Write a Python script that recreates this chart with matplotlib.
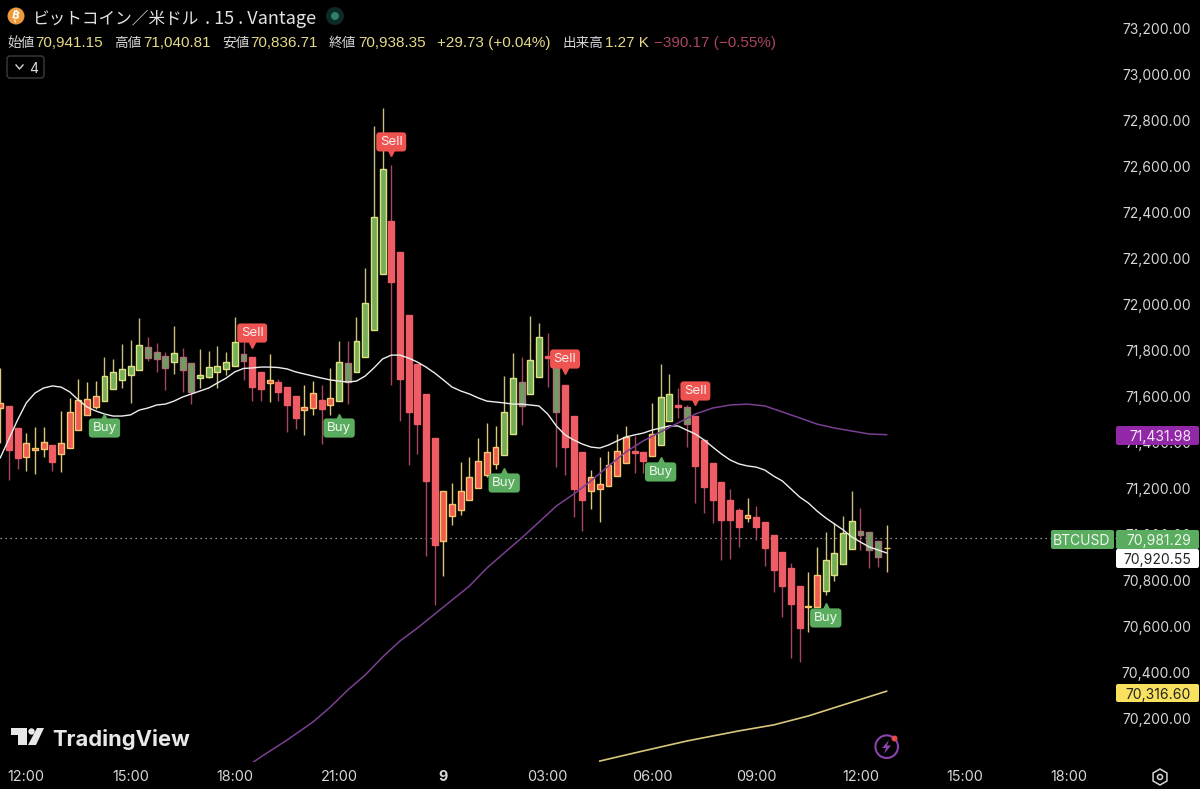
import matplotlib
matplotlib.use('Agg')
import matplotlib.pyplot as plt
from matplotlib.patches import Circle, FancyBboxPatch, Polygon, RegularPolygon
import numpy as np

# Candle data (15 min bars)
opens = [71548, 71557, 71461, 71335, 71365, 71370, 71387, 71348, 71374, 71452,
         71518, 71552, 71578, 71631, 71670, 71691, 71713, 71813, 71792, 71774,
         71748, 71770, 71744, 71678, 71683, 71705, 71718, 71731, 71783, 71770,
         71705, 71657, 71661, 71639, 71600, 71539, 71548, 71583, 71561, 71578,
         71744, 71705, 71770, 71887, 72131, 72361, 72226, 71952, 71739, 71609,
         71418, 70970, 71078, 71105, 71148, 71200, 71257, 71305, 71344, 71435,
         71661, 71609, 71683, 71774, 71748, 71648, 71513, 71357, 71187, 71196,
         71209, 71252, 71309, 71361, 71357, 71339, 71387, 71492, 71561, 71552,
         71513, 71409, 71309, 71226, 71148, 71105, 71070, 71074, 71052, 70996,
         70922, 70852, 70774, 70683, 70683, 70752, 70822, 70870, 70935, 71013,
         71009, 70970, 70941.15]
highs = [71722, 71557, 71461, 71439, 71465, 71465, 71387, 71535, 71591, 71674,
         71661, 71665, 71770, 71761, 71826, 71844, 71939, 71857, 71831, 71792,
         71905, 71809, 71744, 71805, 71796, 71818, 71792, 71944, 71844, 71770,
         71705, 71783, 71674, 71639, 71600, 71648, 71665, 71648, 71722, 71839,
         71839, 71944, 72157, 72774, 72852, 72605, 72226, 71952, 71739, 71609,
         71418, 71187, 71222, 71313, 71335, 71418, 71483, 71470, 71687, 71787,
         71770, 71948, 71918, 71874, 71770, 71648, 71513, 71357, 71278, 71335,
         71361, 71435, 71470, 71426, 71357, 71570, 71739, 71696, 71635, 71561,
         71513, 71409, 71309, 71226, 71196, 71113, 71157, 71122, 71052, 70996,
         70922, 70874, 70774, 70835, 70944, 71009, 71048, 71078, 71187, 71113,
         71009, 70970, 71040.81]
lows = [71396, 71235, 71283, 71274, 71261, 71335, 71274, 71270, 71374, 71452,
        71518, 71544, 71578, 71631, 71635, 71570, 71713, 71752, 71705, 71626,
        71696, 71618, 71565, 71635, 71678, 71635, 71691, 71731, 71670, 71578,
        71578, 71574, 71578, 71444, 71457, 71431, 71518, 71391, 71518, 71578,
        71565, 71705, 71770, 71887, 72131, 71648, 71492, 71300, 71348, 70905,
        70691, 70818, 71039, 71083, 71148, 71200, 71248, 71283, 71344, 71435,
        71474, 71609, 71683, 71639, 71291, 71257, 71074, 71013, 71109, 71052,
        71209, 71252, 71309, 71265, 71265, 71339, 71387, 71492, 71505, 71378,
        71135, 71091, 71048, 70887, 70891, 70944, 71052, 70974, 70861, 70748,
        70639, 70461, 70444, 70574, 70683, 70735, 70796, 70870, 70935, 70931,
        70852, 70857, 70836.71]
closes = [71570, 71365, 71331, 71396, 71374, 71400, 71313, 71396, 71531, 71583,
          71587, 71600, 71687, 71705, 71718, 71731, 71822, 71765, 71761, 71722,
          71787, 71713, 71618, 71691, 71726, 71731, 71748, 71835, 71752, 71639,
          71631, 71670, 71618, 71561, 71505, 71552, 71613, 71544, 71592, 71748,
          71661, 71839, 72005, 72378, 72587, 72096, 71674, 71531, 71478, 71231,
          70952, 71187, 71131, 71187, 71248, 71318, 71357, 71378, 71531, 71678,
          71557, 71757, 71857, 71765, 71531, 71378, 71196, 71148, 71248, 71218,
          71300, 71361, 71422, 71352, 71318, 71435, 71596, 71609, 71552, 71478,
          71296, 71205, 71148, 71061, 71061, 71031, 71083, 71031, 70939, 70844,
          70774, 70696, 70591, 70687, 70822, 70887, 70918, 71005, 71057, 70996,
          70931, 70900, 70938.35]
# o = up/red, g = up/green, r = down/red, m = down/green
kinds = list('orrooorooo' 'oogggggmmm' 'gmmgggggmr' 'rorrroorog' 'mggggrrrrr'
             'rooooooogg' 'mggrmrrroo' 'ooorroggrm' 'rrrrrrorrr' 'rrrooggggm' 'mmo')

# Moving averages
ma_white = [71331, 71413, 71496, 71570, 71613, 71635, 71644, 71639, 71618, 71583,
            71552, 71535, 71522, 71513, 71513, 71518, 71539, 71548, 71561, 71565,
            71578, 71596, 71609, 71622, 71635, 71657, 71678, 71705, 71720, 71722,
            71726, 71726, 71724, 71718, 71705, 71696, 71687, 71678, 71670, 71665,
            71661, 71665, 71687, 71722, 71761, 71778, 71778, 71765, 71748, 71726,
            71700, 71670, 71639, 71622, 71609, 71592, 71578, 71574, 71570, 71565,
            71565, 71561, 71557, 71522, 71470, 71431, 71409, 71391, 71378, 71374,
            71387, 71405, 71422, 71431, 71439, 71452, 71461, 71470, 71470, 71452,
            71435, 71409, 71378, 71348, 71322, 71305, 71296, 71291, 71278, 71252,
            71231, 71196, 71161, 71135, 71100, 71070, 71044, 71018, 70987, 70965,
            70944, 70931, 70918]
ma_purple_x = [29, 30, 33, 36, 38, 40, 42, 44, 46, 48, 50, 52, 54, 56, 58, 60, 62, 64, 66, 68,
               70, 72, 74, 76, 78, 80, 82, 84, 86, 88, 90, 92, 94, 96, 98, 100, 102]
ma_purple = [70005, 70031, 70104, 70183, 70248, 70322, 70387, 70465, 70535, 70591, 70652, 70713,
             70774, 70852, 70918, 70983, 71052, 71122, 71174, 71231, 71296, 71357, 71405, 71444,
             71483, 71522, 71548, 71561, 71565, 71557, 71531, 71505, 71478, 71461, 71448, 71435,
             71431.98]
ma_yellow_x = [69, 74, 79, 85, 89, 93, 97, 102]
ma_yellow = [70013, 70057, 70100, 70144, 70170, 70209, 70257, 70316.60]

# Signals
sell_x = [29, 45, 65, 80]
sell_y = [71874, 72705, 71761, 71622]
buy_x = [12, 39, 58, 76, 95]
buy_y = [71461, 71461, 71222, 71270, 70635]

# Axis labels
price_ticks = np.arange(70200, 73201, 200)
time_ticks = [3, 15, 27, 39, 51, 63, 75, 87, 99, 111, 123]
time_labels = ['12:00', '15:00', '18:00', '21:00', '9', '03:00', '06:00', '09:00', '12:00', '15:00', '18:00']

last_price = 70981.29
styles = {
    'o': ('#ef5b50', '#f5c76e', '#d9c77c'),
    'g': ('#74ae58', '#dfe184', '#c9bf80'),
    'r': ('#ee5c66', '#ee5c66', '#a8455f'),
    'm': ('#6f9c60', '#a9707a', '#a8455f'),
}
LIGHT = '#d6d6d6'
YELLOW = '#e6d98a'
UI_FONT = ['Inter', 'Noto Sans CJK JP', 'DejaVu Sans']
JP_FONT = ['Noto Sans CJK JP', 'DejaVu Sans']
NUM_FONT = ['Liberation Sans', 'DejaVu Sans']

fig = plt.figure(figsize=(12, 7.89), dpi=100, facecolor='black')
ax = fig.add_axes([0, 27 / 789, 1, 762 / 789], facecolor='black')
ax.set_xlim(-0.023, 138.07)
ax.set_ylim(73322 - 4.348 * 762, 73322)
for s in ax.spines.values():
    s.set_visible(False)

x = np.arange(len(opens))
for i in x:
    fill, edge, wick = styles[kinds[i]]
    ax.vlines(i, lows[i], highs[i], color=wick, linewidth=1.0, zorder=2)
    ax.bar(i, closes[i] - opens[i], bottom=opens[i], width=0.68, color=fill,
           edgecolor=edge, linewidth=1.0, zorder=3)

ax.plot(np.arange(len(ma_white)), ma_white, color='#eeeeee', linewidth=1.0, zorder=4)
ax.plot(ma_purple_x, ma_purple, color='#7b3f92', linewidth=1.1, zorder=4)
ax.plot(ma_yellow_x, ma_yellow, color='#d9c77c', linewidth=1.2, zorder=4)
ax.axhline(last_price, color='#b9c4b4', linewidth=0.9, linestyle=(0, (1, 3)), zorder=1)

# Buy / Sell tags
for xi, yi in zip(sell_x, sell_y):
    ax.text(xi, yi, 'Sell', color='#f6eeee', fontsize=9.6, family=UI_FONT, ha='center', va='center', zorder=6,
            bbox=dict(boxstyle='round,pad=0.27,rounding_size=0.25', fc='#ef5350', ec='none'))
    ax.plot(xi, yi - 50, marker='v', color='#ef5350', markersize=4.5, zorder=5)
for xi, yi in zip(buy_x, buy_y):
    ax.text(xi, yi, 'Buy', color='#eef6ee', fontsize=9.6, family=UI_FONT, ha='center', va='center', zorder=6,
            bbox=dict(boxstyle='round,pad=0.27,rounding_size=0.25', fc='#5aac5e', ec='none'))
    ax.plot(xi, yi + 50, marker='^', color='#5aac5e', markersize=4.5, zorder=5)

# Axes ticks
ax.yaxis.tick_right()
ax.set_yticks(price_ticks)
ax.set_yticklabels([f'{p:,.2f}' for p in price_ticks], family=UI_FONT, fontsize=10, color=LIGHT)
ax.tick_params(axis='y', length=0, pad=-6.5)
for tick in ax.yaxis.get_major_ticks():
    tick.label2.set_ha('right')
ax.set_xticks(time_ticks)
ax.set_xticklabels(time_labels, family=UI_FONT, fontsize=10.4, color=LIGHT)
ax.tick_params(axis='x', length=0, pad=5.5)
ax.get_xticklabels()[4].set_fontweight('bold')

# Overlay in pixel coordinates for the app chrome
ov = fig.add_axes([0, 0, 1, 1])
ov.set_xlim(0, 1200)
ov.set_ylim(789, 0)
ov.axis('off')


def box(x0, y0, w, h, color, text, text_color, right=1191):
    ov.add_patch(FancyBboxPatch((x0 + 1, y0 + 1), w - 2, h - 2, boxstyle='round,pad=1,rounding_size=2',
                                fc=color, ec='none', zorder=5))
    ov.text(right, y0 + h / 2, text, color=text_color, fontsize=10, family=UI_FONT, ha='right',
            va='center_baseline', zorder=6)


box(1116, 426, 83, 19, '#9227a8', '71,431.98', '#f2e6f5')
box(1116, 530, 83, 19, '#5aac5e', f'{last_price:,.2f}', '#eef6ee')
box(1051, 530, 63, 19, '#5aac5e', 'BTCUSD', '#eef6ee', right=1110)
box(1116, 549, 83, 19, '#ffffff', '70,920.55', '#222222')
box(1116, 684, 83, 18, '#f7e15f', '70,316.60', '#222222')

# Header, the coin sign is not in any installed font so it is a B with two ticks
ov.add_patch(Circle((16, 16), 8.5, fc='#ee9a3c', ec='none'))
ov.text(16, 16.3, 'B', color='white', fontsize=7.5, fontweight='bold', rotation=-12, ha='center', va='center',
        family='DejaVu Sans')
ov.plot([16.6, 17.2], [10.2, 12], color='white', linewidth=0.8)
ov.plot([14.8, 15.4], [20.2, 22], color='white', linewidth=0.8)
ov.text(33, 17, 'ビットコイン／米ドル', color='#e2e2e2', fontsize=12, family=JP_FONT, va='center_baseline')
ov.text(205, 17, '. 15 . Vantage', color='#e2e2e2', fontsize=13, family=JP_FONT, va='center_baseline')
ov.add_patch(Circle((335, 16), 9, fc='#0e2a25', ec='none'))
ov.add_patch(Circle((335, 16), 4, fc='#2f7f6d', ec='none'))

legend_jp = [(7, '始値'), (114, '高値'), (222, '安値'), (329, '終値'), (563, '出来高')]
legend_num = [
    (35, '70,941.15', YELLOW), (143, '71,040.81', YELLOW), (250, '70,836.71', YELLOW), (358, '70,938.35', YELLOW),
    (437, '+29.73 (+0.04%)', YELLOW), (605, '1.27 K', YELLOW), (654, '−390.17 (−0.55%)', '#a8455f'),
]
for px, txt in legend_jp:
    ov.text(px, 41, txt, color=LIGHT, fontsize=9.8, family=JP_FONT, va='center_baseline')
for px, txt, col in legend_num:
    ov.text(px, 41, txt, color=col, fontsize=11, family=NUM_FONT, va='center_baseline')

# Collapse button
ov.add_patch(FancyBboxPatch((8, 57), 35, 20, boxstyle='round,pad=1,rounding_size=3', fc='black', ec='#3c3c3c', lw=1))
ov.plot([16, 19.5, 23], [65, 69, 65], color=LIGHT, linewidth=1)
ov.text(34, 67, '4', color=LIGHT, fontsize=10, family=UI_FONT, ha='center', va='center_baseline')

# TradingView logo
logo = '#e8e8e8'
ov.add_patch(Polygon([(11, 728), (27, 728), (27, 745), (18, 745), (18, 735), (11, 735)], fc=logo, ec='none'))
ov.add_patch(Circle((31.5, 731.5), 3.2, fc=logo, ec='none'))
ov.add_patch(Polygon([(37, 728), (44, 728), (36, 745), (28, 745)], fc=logo, ec='none'))
ov.text(52, 737, 'TradingView', color=logo, fontsize=15.8, fontweight='bold', family='Inter', va='center_baseline')

# Lightning badge and settings icon
ov.add_patch(Circle((886.7, 746.7), 11.3, fc='none', ec='#8e44ad', lw=1.5))
ov.add_patch(Polygon([(889, 740), (882, 748), (886, 748), (884, 754), (891, 745.5), (887, 745.5)], fc='#8e44ad', ec='none'))
ov.add_patch(Circle((894.5, 738.5), 3, fc='#e5484d', ec='none'))
ov.add_patch(RegularPolygon((1160, 777), 6, radius=8, fc='none', ec=LIGHT, lw=1.1))
ov.add_patch(Circle((1160, 777), 2.5, fc='none', ec=LIGHT, lw=1.1))

fig.savefig('out.png', dpi=100, facecolor='black')
